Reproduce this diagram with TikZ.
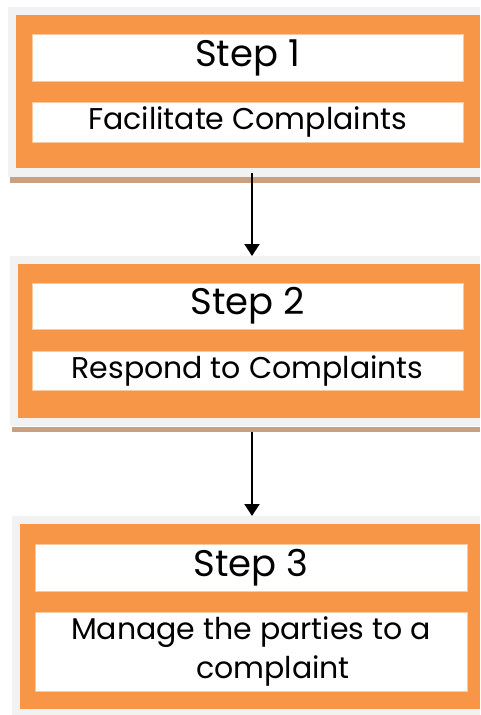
\documentclass[tikz,border=0pt]{standalone}
\usepackage{fontspec}
\setmainfont{Poppins}
\usetikzlibrary{arrows.meta}
\definecolor{og}{HTML}{F79646}
\definecolor{fr}{HTML}{F2F2F2}
\definecolor{sh}{HTML}{C9A080}
\definecolor{wb}{HTML}{FBC9A0}
\tikzset{
  frame/.style={fill=fr, draw=none},
  obox/.style={fill=og, draw=none},
  wbox/.style={fill=white, draw=wb, line width=0.6pt},
  shadow/.style={fill=sh, draw=none},
  steptxt/.style={font=\fontsize{37}{40}\selectfont},
  desctxt/.style={font=\fontsize{30}{39}\selectfont, align=center},
  conn/.style={-{Triangle[length=12pt,width=15pt]}, line width=2pt}
}
\begin{document}
\begin{tikzpicture}[x=1pt,y=-1pt]
\useasboundingbox (0,0) rectangle (480,715);
\fill[white] (0,0) rectangle (480,715);
% box 1
\fill[frame] (8,7) rectangle (480,177);
\fill[shadow] (10,177) rectangle (480,183);
\fill[obox] (16,15) rectangle (480,168);
\node[wbox, minimum width=431pt, minimum height=47pt, inner sep=0pt] (s1) at (247.5,57.5) {};
\node[steptxt] at (s1) {Step 1};
\node[wbox, minimum width=431pt, minimum height=40pt, inner sep=0pt] (d1) at (247.5,122) {};
\node[desctxt] at (d1) {Facilitate Complaints};
\coordinate (b1) at (252,173);
% box 2
\fill[frame] (10,256) rectangle (480,426);
\fill[shadow] (12,427) rectangle (480,432);
\fill[obox] (18,264) rectangle (480,418);
\node[wbox, minimum width=431pt, minimum height=46pt, inner sep=0pt] (s2) at (247.5,306) {};
\node[steptxt] at (s2) {Step 2};
\node[wbox, minimum width=431pt, minimum height=39pt, inner sep=0pt] (d2) at (247.5,370.5) {};
\node[desctxt] at (d2) {Respond to Complaints};
\coordinate (t2) at (252,256);
\coordinate (b2) at (252,432);
% box 3
\fill[frame] (12,516) rectangle (480,715);
\fill[obox] (20,524) rectangle (480,709);
\node[wbox, minimum width=432pt, minimum height=47pt, inner sep=0pt] (s3) at (251,567.5) {};
\node[steptxt] at (s3) {Step 3};
\node[wbox, minimum width=432pt, minimum height=79pt, inner sep=0pt] (d3) at (251,651.5) {};
\node[desctxt] at (d3) {Manage the parties to a\\ \hspace*{44pt}complaint};
\coordinate (t3) at (252,516);
\draw[conn] (b1) -- (t2);
\draw[conn] (b2) -- (t3);
\end{tikzpicture}
\end{document}
